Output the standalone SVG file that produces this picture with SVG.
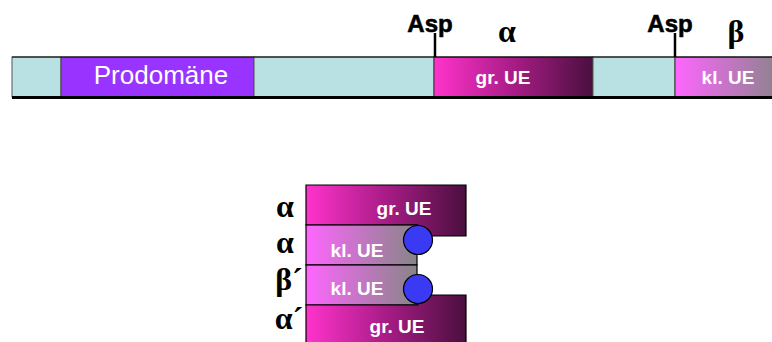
<svg xmlns="http://www.w3.org/2000/svg" width="772" height="342" viewBox="0 0 772 342">
<defs>
<linearGradient id="gr" x1="0" y1="0" x2="1" y2="0">
<stop offset="0" stop-color="#ff33cc"/><stop offset="0.5" stop-color="#a81c86"/><stop offset="1" stop-color="#4a0f3e"/>
</linearGradient>
<linearGradient id="kl" x1="0" y1="0" x2="1" y2="0">
<stop offset="0" stop-color="#ff66ff"/><stop offset="1" stop-color="#868686"/>
</linearGradient>
<linearGradient id="klTop" x1="0" y1="0" x2="1" y2="0">
<stop offset="0" stop-color="#ff66ff"/><stop offset="1" stop-color="#928292"/>
</linearGradient>
<style>
.cy{fill:#b9e0e3;stroke:#555;stroke-width:1}
.w{fill:#fff;font-family:"Liberation Sans",Arial,sans-serif;font-weight:bold;font-size:19px}
.reg{fill:#fff;font-family:"Liberation Sans",Arial,sans-serif;font-weight:normal;font-size:26px}
.lab{fill:#000;font-family:"Liberation Sans",Arial,sans-serif;font-weight:bold;font-size:24px;stroke:#000;stroke-width:0.6}
.gk{fill:#000;font-family:"Liberation Serif","Times New Roman",serif;font-weight:bold;font-size:32px}
.ol{stroke:#000;stroke-width:1.2}
.dot{fill:#3a3af5;stroke:#000;stroke-width:1.2}
.tick{stroke:#000;stroke-width:2.5;fill:none}
</style>
</defs>
<rect width="772" height="342" fill="#fff"/>

<g id="bar">
<rect class="cy" x="12" y="57" width="49" height="40"/>
<rect id="prodomaene" x="61" y="57" width="193" height="40" fill="#9933ff" stroke="#444" stroke-width="1"/>
<rect class="cy" x="254" y="57" width="180" height="40"/>
<rect x="434" y="57" width="159" height="40" fill="url(#gr)" stroke="#333" stroke-width="1"/>
<rect class="cy" x="593" y="57" width="82" height="40"/>
<rect x="675" y="57" width="98" height="40" fill="url(#klTop)" stroke="#333" stroke-width="1"/>
<line x1="12" y1="57" x2="772" y2="57" stroke="#000" stroke-width="1.2"/>
<line x1="12" y1="97.5" x2="772" y2="97.5" stroke="#000" stroke-width="3"/>
<text class="reg" x="161" y="84" text-anchor="middle">Prodomäne</text>
<text class="w" x="503" y="84" text-anchor="middle">gr. UE</text>
<text class="w" x="728" y="84" text-anchor="middle">kl. UE</text>
</g>

<g id="labels-top">
<text class="lab" x="430" y="32" text-anchor="middle">Asp</text>
<text class="gk" x="507" y="42" font-size="34" text-anchor="middle">α</text>
<text class="lab" x="670" y="32" text-anchor="middle">Asp</text>
<text class="gk" x="736" y="42" font-size="34" text-anchor="middle">β</text>
</g>

<g id="connectors">
<line class="tick" x1="435" y1="33" x2="435" y2="57"/>
<line class="tick" x1="675" y1="33" x2="675" y2="57"/>
</g>

<g id="complex">
<g id="alpha1">
<path d="M306 185 H466 V236 H418 V225 H306 Z" fill="url(#gr)" class="ol"/>
<text class="w" x="404" y="215" text-anchor="middle">gr. UE</text>
</g>
<g id="kl1">
<rect x="306" y="225" width="111" height="40" fill="url(#kl)" class="ol"/>
<text class="w" x="357" y="257" text-anchor="middle">kl. UE</text>
</g>
<g id="kl2">
<rect x="306" y="265" width="111" height="40" fill="url(#kl)" class="ol"/>
<text class="w" x="357" y="295" text-anchor="middle">kl. UE</text>
</g>
<g id="alpha2">
<path d="M306 305 H418 V295 H466 V343 H306 Z" fill="url(#gr)" class="ol"/>
<text class="w" x="397" y="333" text-anchor="middle">gr. UE</text>
</g>
<circle class="dot" cx="418" cy="240" r="14.5"/>
<circle class="dot" cx="418" cy="289" r="14.5"/>
</g>

<g id="labels-bottom">
<text class="gk" x="285" y="217" text-anchor="middle">α</text>
<text class="gk" x="285" y="253" text-anchor="middle">α</text>
<text class="gk" x="289" y="290" text-anchor="middle">β´</text>
<text class="gk" x="289" y="329" text-anchor="middle">α´</text>
</g>
</svg>
